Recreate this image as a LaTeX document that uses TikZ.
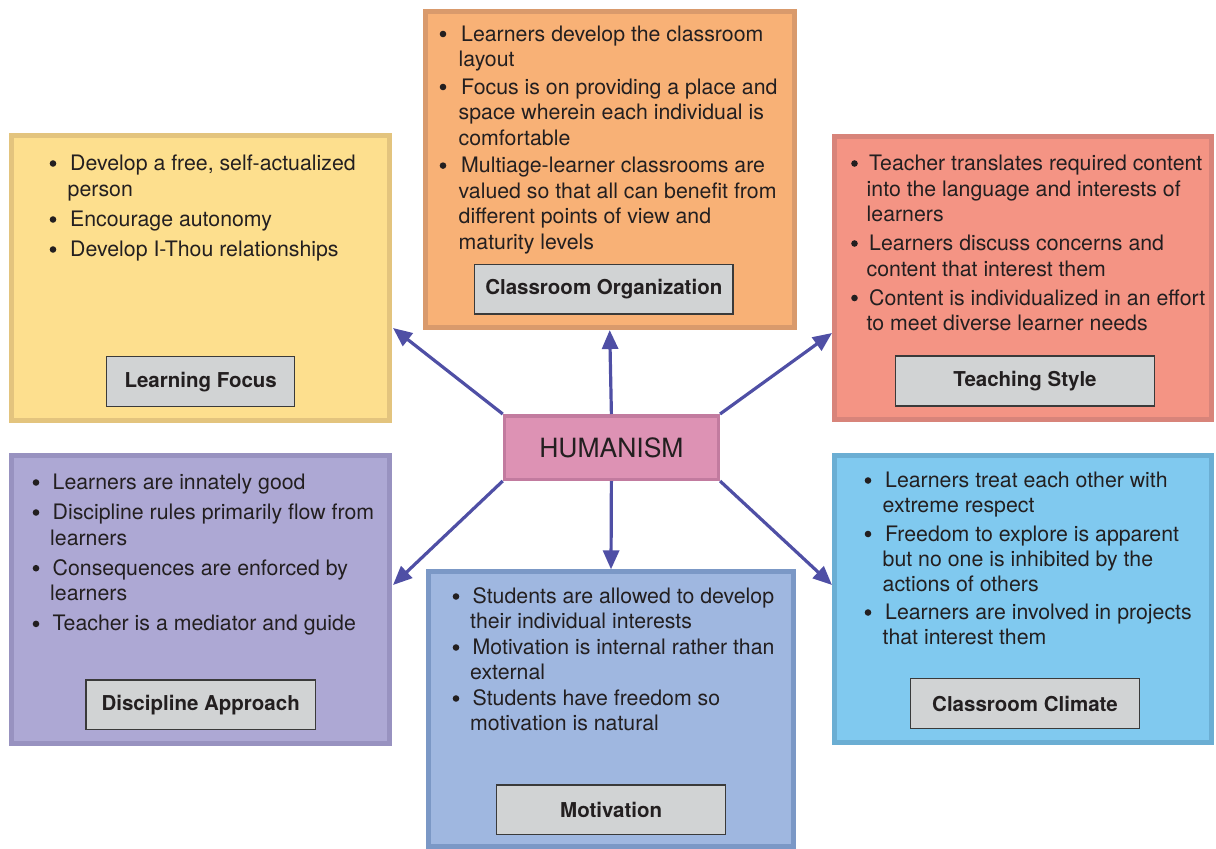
\documentclass[tikz,border=0pt]{standalone}
\usepackage{fontspec}
\setmainfont{TeX Gyre Heros}
\usetikzlibrary{arrows.meta}

\definecolor{ink}{HTML}{231F20}
\definecolor{arrowc}{HTML}{4F4FA5}
\definecolor{labfill}{HTML}{D1D3D4}
\definecolor{labedge}{HTML}{3A3A3A}
\definecolor{orgfill}{HTML}{F8B176}\definecolor{orgedge}{HTML}{D99A6C}
\definecolor{lrnfill}{HTML}{FDDF8E}\definecolor{lrnedge}{HTML}{E3C47E}
\definecolor{tchfill}{HTML}{F49484}\definecolor{tchedge}{HTML}{D8847A}
\definecolor{humfill}{HTML}{DD92B4}\definecolor{humedge}{HTML}{C27B9F}
\definecolor{dscfill}{HTML}{ADA8D4}\definecolor{dscedge}{HTML}{9892C0}
\definecolor{motfill}{HTML}{9FB7E0}\definecolor{motedge}{HTML}{7B98C6}
\definecolor{clmfill}{HTML}{80C9EF}\definecolor{clmedge}{HTML}{6BAED3}

% round bullet mark
\newcommand\dotmark{\tikz[baseline=0pt]\fill[ink] (3.6pt,7pt) circle (3.3pt);}
% bullet list item with hanging indent
\newlength\bulhang
\newcommand\bpt[1]{\par\hangindent=\bulhang\hangafter=1\noindent
  \makebox[\bulhang][l]{\dotmark}\hspace{2.5pt}#1}
% text block: width, hang, baselineskip, parskip, items
\newcommand\blk[5]{\begin{minipage}[t]{#1}\raggedright
  \fontsize{21.3pt}{#3}\selectfont\setlength\parskip{#4}\setlength\bulhang{#2}%
  #5\end{minipage}}

\tikzset{
  panel/.style={draw, line width=5pt, inner sep=0pt, rectangle},
  lab/.style={draw=labedge, fill=labfill, line width=1.3pt, inner sep=0pt,
    font=\fontsize{20.5pt}{24pt}\selectfont\bfseries, text=ink},
  txt/.style={anchor=base west, inner sep=0pt, text=ink},
  arr/.style={draw=arrowc, line width=3.2pt,
    -{Triangle[length=19pt,width=16pt]}, arrowc}
}

\begin{document}
\begin{tikzpicture}[x=1pt,y=-1pt]
\useasboundingbox (0,0) rectangle (1216,849);

% surrounding panels
\node[panel, fill=orgfill, draw=orgedge, minimum width=369pt, minimum height=315.7pt] (org) at (609.7,169.7) {};
\node[panel, fill=lrnfill, draw=lrnedge, minimum width=377.4pt, minimum height=284.4pt] (lrn) at (200.5,278) {};
\node[panel, fill=tchfill, draw=tchedge, minimum width=377.3pt, minimum height=282.7pt] (tch) at (1022.9,277.9) {};
\node[panel, fill=dscfill, draw=dscedge, minimum width=377.4pt, minimum height=288.3pt] (dsc) at (200.5,599.4) {};
\node[panel, fill=motfill, draw=motedge, minimum width=365pt, minimum height=274.7pt] (mot) at (611,709.2) {};
\node[panel, fill=clmfill, draw=clmedge, minimum width=377.3pt, minimum height=287.3pt] (clm) at (1022.9,598.9) {};

% central node
\node[draw=humedge, fill=humfill, line width=3.5pt, inner sep=0pt,
  minimum width=213.8pt, minimum height=63.5pt,
  font=\fontsize{26.5pt}{30pt}\selectfont, text=ink] (hum) at (611.4,447.5) {HUMANISM};

% panel titles
\node[lab, minimum width=258.5pt, minimum height=49.7pt] (orglab) at (603.8,289.2) {Classroom Organization};
\node[lab, minimum width=188pt, minimum height=50pt] (lrnlab) at (200.7,381.7) {Learning Focus};
\node[lab, minimum width=258.6pt, minimum height=50pt] (tchlab) at (1025,381) {Teaching Style};
\node[lab, minimum width=229.3pt, minimum height=49.3pt] (dsclab) at (200.7,704.7) {Discipline Approach};
\node[lab, minimum width=229pt, minimum height=49.3pt] (motlab) at (611.2,809.7) {Motivation};
\node[lab, minimum width=228.6pt, minimum height=49.6pt] (clmlab) at (1025,703.5) {Classroom Climate};

% bullet texts
\node[txt] (orgtxt) at (439.5,41) {\blk{350pt}{19pt}{25.6pt}{1.8pt}{%
  \bpt{Learners develop the classroom\newline layout}
  \bpt{Focus is on providing a place and\newline space wherein each individual is\newline comfortable}
  \bpt{Multiage-learner classrooms are\newline valued so that all can benefit from\newline different points of view and\newline maturity levels}}};

\node[txt] (lrntxt) at (49.5,170.5) {\blk{340pt}{18pt}{26pt}{4pt}{%
  \bpt{Develop a free, self-actualized\newline person}
  \bpt{Encourage autonomy}
  \bpt{Develop I-Thou relationships}}};

\node[txt] (tchtxt) at (851,170.5) {\blk{370pt}{15.5pt}{25.5pt}{3.5pt}{%
  \bpt{Teacher translates required content\newline into the language and interests of\newline learners}
  \bpt{Learners discuss concerns and\newline content that interest them}
  \bpt{Content is individualized in an effort\newline to meet diverse learner needs}}};

\node[txt] (dsctxt) at (32.5,489.5) {\blk{360pt}{17.5pt}{25.7pt}{4.3pt}{%
  \bpt{Learners are innately good}
  \bpt{Discipline rules primarily flow from\newline learners}
  \bpt{Consequences are enforced by\newline learners}
  \bpt{Teacher is a mediator and guide}}};

\node[txt] (mottxt) at (452.5,603.5) {\blk{340pt}{17.5pt}{25pt}{1pt}{%
  \bpt{Students are allowed to develop\newline their individual interests}
  \bpt{Motivation is internal rather than\newline external}
  \bpt{Students have freedom so\newline motivation is natural}}};

\node[txt] (clmtxt) at (864.5,487.5) {\blk{340pt}{18pt}{25pt}{3.5pt}{%
  \bpt{Learners treat each other with\newline extreme respect}
  \bpt{Freedom to explore is apparent\newline but no one is inhibited by the\newline actions of others}
  \bpt{Learners are involved in projects\newline that interest them}}};

% arrow ends in the gaps between panels
\coordinate (tl) at (393,328);
\coordinate (tr) at (832,333);
\coordinate (bl) at (393,585);
\coordinate (br) at (832,585);

\draw[arr] (hum.north west) -- (tl);
\draw[arr] (hum.north) -- (org.south);
\draw[arr] (hum.north east) -- (tr);
\draw[arr] (hum.south west) -- (bl);
\draw[arr] (hum.south) -- (mot.north);
\draw[arr] (hum.south east) -- (br);
\end{tikzpicture}
\end{document}
